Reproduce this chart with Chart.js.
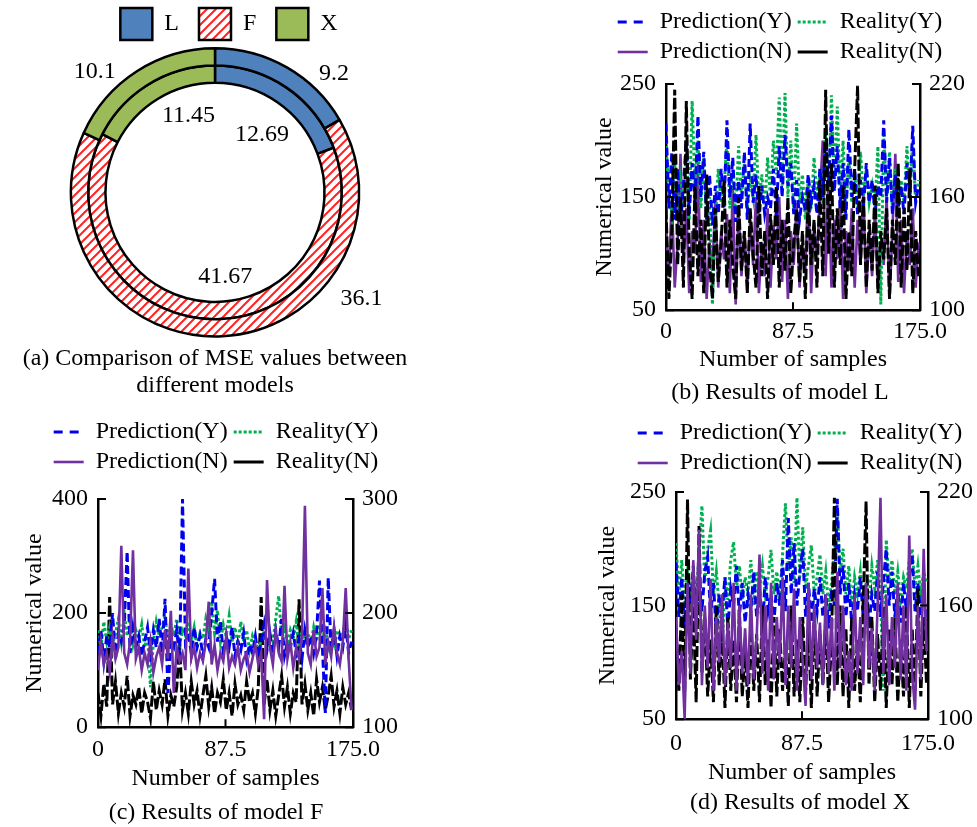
<!DOCTYPE html>
<html>
<head>
<meta charset="utf-8">
<script src="https://cdn.jsdelivr.net/npm/chart.js@4.4.1/dist/chart.umd.min.js"></script>
<style>
  html, body { margin: 0; padding: 0; background: #fff; overflow: hidden; width: 977px; height: 827px; }
  canvas { position: absolute; }
</style>
</head>
<body>
<canvas id="chartA" width="430" height="405" style="left:0;top:0"></canvas>
<canvas id="chartB" width="410" height="410" style="left:575px;top:0"></canvas>
<canvas id="chartC" width="432" height="417" style="left:0;top:410px"></canvas>
<canvas id="chartD" width="420" height="417" style="left:590px;top:410px"></canvas>
<script>
'use strict';

// ── DATA ───────────────────────────────────────────────────
// (a) MSE per model, outer ring and inner ring
const MODELS = ['L', 'F', 'X'];
const MSE_OUTER = [9.2, 36.1, 10.1];
const MSE_INNER = [12.69, 41.67, 11.45];

// line panels: x = sample number
const SAMPLES = [
  0, 2, 4, 6, 8, 10, 12, 14, 16, 18, 20, 22, 24, 26, 28, 30, 32, 34, 36, 38,
  40, 42, 44, 46, 48, 50, 52, 54, 56, 58, 60, 62, 64, 66, 68, 70, 72, 74, 76, 78,
  80, 82, 84, 86, 88, 90, 92, 94, 96, 98, 100, 102, 104, 106, 108, 110, 112, 114, 116, 118,
  120, 122, 124, 126, 128, 130, 132, 134, 136, 138, 140, 142, 144, 146, 148, 150, 152, 154, 156, 158,
  160, 162, 164, 166, 168, 170, 172, 174
];
const X_TICKS = [0, 87.5, 175];
const SERIES_NAMES = ['Prediction(Y)', 'Reality(Y)', 'Prediction(N)', 'Reality(N)'];

// (b) model L  — Y series on left axis, N series on right axis
const L_TICKS_LEFT = [50, 150, 250];
const L_TICKS_RIGHT = [100, 160, 220];
const L_PRED_Y = [
  215,140,190,130,175,128,160,200,135,180, 145,222,150,190,130,170,125,160,135,175,
  140,218,150,185,128,165,140,190,130,215, 145,170,130,160,135,150,140,175,130,195,
  150,205,160,180,135,165,130,150,138,170, 145,160,135,175,150,200,160,222,155,195,
  140,180,130,210,150,175,135,165,140,180, 145,165,135,160,150,218,145,185,135,170,
  140,160,135,180,150,213,145,160
];
const L_REAL_Y = [
  200,150,135,180,130,165,145,190,130,235, 160,200,140,185,135,150,55,130,175,145,
  160,200,140,175,135,195,150,180,140,165, 150,205,145,170,140,185,150,200,170,238,
  160,242,150,200,140,215,145,170,130,165, 140,185,150,170,145,210,155,240,160,230,
  150,200,140,185,145,170,140,190,150,175, 145,160,140,195,55,205,150,190,140,175,
  150,165,145,195,150,200,145,165
];
const L_PRED_N = [
  142,118,160,112,136,183,124,154,109,142, 130,178,115,148,106,136,121,160,112,142,
  127,151,109,166,103,154,118,142,112,148, 124,160,109,136,118,154,112,145,127,160,
  115,148,106,142,124,157,112,136,121,166, 109,145,127,160,190,118,172,112,148,127,
  160,106,142,121,154,112,148,124,163,109, 142,118,154,112,136,124,160,106,142,183,
  115,148,109,142,124,154,112,136
];
const L_REAL_N = [
  154,106,142,217,124,160,112,211,130,106, 166,118,148,109,172,124,106,154,115,136,
  169,112,148,124,106,160,121,142,109,154, 130,112,166,118,142,106,151,124,166,112,
  148,121,160,109,136,154,115,142,106,163, 124,148,112,169,118,217,130,178,112,154,
  124,166,106,142,118,175,219,124,160,112, 148,121,166,109,142,127,154,106,148,124,
  178,112,154,121,175,109,142,118
];

// (c) model F
const F_TICKS_LEFT = [0, 200, 400];
const F_TICKS_RIGHT = [100, 200, 300];
const F_PRED_Y = [
  130,170,115,160,140,200,120,165,150,180, 308,130,175,140,160,125,150,175,130,170,
  140,190,130,225,60,150,140,170,120,400, 150,165,130,175,140,160,125,155,140,200,
  260,150,185,130,160,140,175,125,150,135, 165,120,145,130,160,125,150,180,135,165,
  130,170,140,190,125,150,140,165,130,155, 120,170,140,160,130,165,257,140,25,262,
  135,170,125,160,140,180,130,150
];
const F_REAL_Y = [
  170,140,185,150,175,145,165,190,150,200, 160,185,145,170,155,180,140,160,70,150,
  185,160,175,195,150,180,160,190,145,170, 160,185,150,175,140,165,155,190,170,220,
  165,205,150,180,160,195,150,175,145,185, 150,170,135,160,145,140,150,170,140,165,
  150,190,230,160,175,145,170,155,185,140, 170,150,165,145,175,150,180,155,170,140,
  160,145,170,150,165,190,155,170
];
const F_PRED_N = [
  150,175,155,165,148,180,160,170,259,165, 155,175,255,160,170,150,165,155,175,148,
  162,170,155,185,160,202,130,170,158,165, 150,239,160,170,152,165,158,175,210,155,
  172,150,165,158,180,152,162,155,170,150, 160,165,148,160,172,155,165,107,229,170,
  155,185,165,158,224,160,175,152,170,160, 180,294,165,155,185,162,170,222,155,175,
  162,188,165,155,175,222,160,115
];
const F_REAL_N = [
  130,110,138,118,214,120,140,112,130,118, 145,110,128,120,135,112,130,122,108,140,
  115,132,120,142,110,128,118,135,172,115, 130,112,140,120,132,110,128,145,118,135,
  112,130,122,142,115,130,110,138,120,128, 115,140,122,130,112,135,214,120,142,115,
  132,110,128,145,118,135,112,130,122,212, 120,138,115,130,110,142,122,135,115,128,
  145,118,132,112,135,120,130,115
];

// (d) model X
const X_TICKS_LEFT = [50, 150, 250];
const X_TICKS_RIGHT = [100, 160, 220];
const X_PRED_Y = [
  188,140,175,130,170,150,185,135,165,145, 180,193,140,170,125,160,145,175,130,165,
  150,185,140,170,135,160,145,180,140,165, 130,175,145,160,135,170,150,190,145,227,
  160,205,150,180,200,140,170,135,165,145, 175,140,160,130,165,150,244,160,185,140,
  170,135,160,145,175,140,165,130,160,145, 180,140,170,200,150,180,140,165,135,170,
  145,175,195,145,170,140,160,135
];
const X_REAL_Y = [
  205,160,190,150,180,160,175,155,195,238, 170,200,216,160,180,150,107,175,155,190,
  206,165,185,155,175,160,190,150,180,165, 185,160,175,199,160,180,155,195,240,180,
  210,170,245,175,219,165,185,203,160,175, 195,160,180,150,170,200,234,180,200,160,
  185,150,175,160,180,150,170,155,185,165, 190,160,75,208,170,190,160,180,155,175,
  165,190,200,165,185,160,180,170
];
const X_PRED_N = [
  154,118,136,100,172,124,184,142,200,118, 160,127,174,115,154,130,166,118,151,127,
  172,115,160,124,148,118,166,121,142,187, 124,160,115,172,121,154,130,175,118,160,
  127,169,115,154,130,107,172,121,160,127, 151,118,166,124,154,115,178,127,160,118,
  136,115,166,124,154,118,172,127,148,115, 160,217,124,166,118,154,127,172,121,160,
  115,197,124,105,160,121,190,136
];
const X_REAL_N = [
  148,115,166,112,216,121,160,109,202,124, 154,112,142,109,160,118,148,106,154,115,
  142,109,157,112,136,106,151,115,145,109, 160,118,142,106,154,112,148,115,139,107,
  160,112,142,109,154,115,148,106,157,112, 145,118,154,109,142,217,118,160,112,148,
  106,154,115,142,109,160,215,118,154,109, 145,115,160,106,148,118,154,109,142,112,
  160,106,148,115,169,112,154,118
];

// ── STYLE ──────────────────────────────────────────────────
const SERIF = '"Liberation Serif", "Times New Roman", serif';
const LINE_COLORS = ['#0000ee', '#00b050', '#7030a0', '#000000'];
const LINE_DASH = [[8, 4], [3, 2.5], [], [11, 3]];
const LEGEND_DASH = [[9, 7], [3, 2], [], []];
const LINE_WIDTH = [3, 3, 2.6, 3];
const RING_BLUE = '#4f81bd';
const RING_GREEN = '#9bbb59';
// where the ring values sit: degrees clockwise from top, offset from the ring edge
const LABEL_ANGLE = [[45, 126, 315], [39, 173, 341]];
const LABEL_SHIFT = [[24, 37, 26], [-35, -25, -28]];

Chart.defaults.font.family = SERIF;
Chart.defaults.font.size = 24;
Chart.defaults.color = '#000';

function hatchPattern() {
  const c = document.createElement('canvas');
  c.width = 9; c.height = 9;
  const g = c.getContext('2d');
  g.fillStyle = '#fff';
  g.fillRect(0, 0, 9, 9);
  g.strokeStyle = '#ff2222';
  g.lineWidth = 2;
  g.beginPath();
  g.moveTo(0, 9); g.lineTo(9, 0);
  g.moveTo(-2, 2); g.lineTo(2, -2);
  g.moveTo(7, 11); g.lineTo(11, 7);
  g.stroke();
  return g.createPattern(c, 'repeat');
}

// ── PLUGINS ────────────────────────────────────────────────
// extra room under the legend, and an optional sideways nudge of it
const legendGap = {
  id: 'legendGap',
  beforeInit(chart, args, opts) {
    const fit = chart.legend.fit;
    chart.legend.fit = function () {
      fit.call(this);
      this.height += opts.gap || 0;
    };
  },
  afterLayout(chart, args, opts) {
    if (opts.shift) {
      chart.legend.left += opts.shift;
      chart.legend.right += opts.shift;
    }
  }
};

// short ticks pointing into the plot, as in the figure
const inwardTicks = {
  id: 'inwardTicks',
  afterDraw(chart) {
    const { ctx, chartArea: a } = chart;
    const len = 8;
    ctx.save();
    ctx.strokeStyle = '#000';
    ctx.lineWidth = 2;
    ctx.beginPath();
    chart.scales.y.ticks.forEach(t => {
      const py = chart.scales.y.getPixelForValue(t.value);
      ctx.moveTo(a.left, py); ctx.lineTo(a.left + len, py);
    });
    chart.scales.y1.ticks.forEach(t => {
      const py = chart.scales.y1.getPixelForValue(t.value);
      ctx.moveTo(a.right, py); ctx.lineTo(a.right - len, py);
    });
    chart.scales.x.ticks.forEach(t => {
      const px = chart.scales.x.getPixelForValue(t.value);
      ctx.moveTo(px, a.bottom); ctx.lineTo(px, a.bottom - len);
    });
    ctx.stroke();
    ctx.restore();
  }
};

const ringLabels = {
  id: 'ringLabels',
  afterDatasetsDraw(chart) {
    const { ctx } = chart;
    ctx.save();
    ctx.font = '24px ' + SERIF;
    ctx.fillStyle = '#000';
    ctx.textAlign = 'center';
    ctx.textBaseline = 'middle';
    chart.data.datasets.forEach((ds, di) => {
      chart.getDatasetMeta(di).data.forEach((arc, i) => {
        const p = arc.getProps(['x', 'y', 'innerRadius', 'outerRadius'], true);
        const ang = LABEL_ANGLE[di][i] * Math.PI / 180;
        const r = (di === 0 ? p.outerRadius : p.innerRadius) + LABEL_SHIFT[di][i];
        ctx.fillText(String(ds.data[i]), p.x + r * Math.sin(ang), p.y - r * Math.cos(ang));
      });
    });
    ctx.restore();
  }
};

// ── (a) DOUGHNUT ───────────────────────────────────────────
const hatch = hatchPattern();
new Chart(document.getElementById('chartA'), {
  type: 'doughnut',
  data: {
    labels: MODELS,
    datasets: [MSE_OUTER, MSE_INNER].map(vals => ({
      data: vals,
      backgroundColor: [RING_BLUE, hatch, RING_GREEN],
      borderColor: '#000',
      borderWidth: 2.5
    }))
  },
  options: {
    responsive: false,
    animation: false,
    events: [],
    cutout: '76%',
    layout: { padding: { top: -12 } },
    plugins: {
      legendGap: { gap: -3, shift: 14 },
      legend: {
        position: 'top',
        labels: { boxWidth: 32, boxHeight: 32, padding: 20, font: { size: 24 } }
      },
      title: {
        display: true,
        position: 'bottom',
        text: ['(a) Comparison of MSE values between', 'different models'],
        font: { size: 24, weight: 'normal', lineHeight: 1.13 },
        padding: { top: 7, bottom: 6 }
      },
      tooltip: { enabled: false }
    }
  },
  plugins: [legendGap, ringLabels]
});

// ── LINE PANELS ────────────────────────────────────────────
function lineChart(id, series, order, leftTicks, rightTicks, caption, lay) {
  const datasets = series.map((vals, k) => ({
    label: SERIES_NAMES[k],
    data: vals.map((v, i) => ({ x: SAMPLES[i], y: v })),
    yAxisID: k < 2 ? 'y' : 'y1',
    borderColor: LINE_COLORS[k],
    backgroundColor: LINE_COLORS[k],
    borderDash: LINE_DASH[k],
    borderWidth: LINE_WIDTH[k],
    pointRadius: 0,
    tension: 0,
    fill: false,
    order: order[k]
  }));
  const axisBase = {
    grid: { display: true, drawOnChartArea: false, drawTicks: false },
    border: { display: true, color: '#000', width: 2.5 }
  };
  new Chart(document.getElementById(id), {
    type: 'line',
    data: { datasets },
    options: {
      responsive: false,
      animation: false,
      events: [],
      layout: { padding: { top: lay.padTop, left: 0, right: 0, bottom: 0 } },
      scales: {
        x: {
          ...axisBase,
          type: 'linear',
          min: X_TICKS[0],
          max: X_TICKS[X_TICKS.length - 1],
          afterBuildTicks: s => { s.ticks = X_TICKS.map(v => ({ value: v })); },
          ticks: { padding: lay.xPad, maxRotation: 0, autoSkip: false,
                   callback: v => v === 175 ? '175.0' : String(v) },
          title: { display: true, text: 'Number of samples', padding: { top: 0, bottom: 0 } },
          afterFit: s => { s.height = lay.xH; }
        },
        y: {
          ...axisBase,
          position: 'left',
          min: leftTicks[0],
          max: leftTicks[leftTicks.length - 1],
          afterBuildTicks: s => { s.ticks = leftTicks.map(v => ({ value: v })); },
          ticks: { padding: 10 },
          title: { display: true, text: 'Numerical value', padding: { top: lay.yTitlePt, bottom: 0 } },
          afterFit: s => { s.width = lay.yW; }
        },
        y1: {
          ...axisBase,
          position: 'right',
          min: rightTicks[0],
          max: rightTicks[rightTicks.length - 1],
          afterBuildTicks: s => { s.ticks = rightTicks.map(v => ({ value: v })); },
          ticks: { padding: 9 },
          afterFit: s => { s.width = lay.y1W; }
        }
      },
      plugins: {
        legendGap: { gap: lay.gap },
        legend: {
          position: 'top',
          labels: {
            usePointStyle: true,
            pointStyle: 'line',
            pointStyleWidth: 30,
            padding: 6,
            sort: (a, b) => a.datasetIndex - b.datasetIndex,
            generateLabels(chart) {
              const items = Chart.defaults.plugins.legend.labels.generateLabels(chart);
              items.forEach(it => {
                const k = it.datasetIndex;
                it.lineDash = LEGEND_DASH[k];
                it.lineWidth = LINE_WIDTH[k];
                it.strokeStyle = LINE_COLORS[k];
                it.fillStyle = LINE_COLORS[k];
              });
              return items;
            }
          }
        },
        title: {
          display: true,
          position: 'bottom',
          text: caption,
          font: { size: 24, weight: 'normal' },
          padding: { top: lay.capPt, bottom: lay.capPb }
        },
        tooltip: { enabled: false }
      }
    },
    plugins: [legendGap, inwardTicks]
  });
}

lineChart('chartB', [L_PRED_Y, L_REAL_Y, L_PRED_N, L_REAL_N], [2, 3, 4, 1],
  L_TICKS_LEFT, L_TICKS_RIGHT, '(b) Results of model L',
  { padTop: 4, gap: 10, yW: 91, y1W: 65, yTitlePt: 15, xH: 64, xPad: 7, capPt: 4, capPb: 3 });

lineChart('chartC', [F_PRED_Y, F_REAL_Y, F_PRED_N, F_REAL_N], [2, 3, 1, 4],
  F_TICKS_LEFT, F_TICKS_RIGHT, '(c) Results of model F',
  { padTop: 4, gap: 15, yW: 98, y1W: 79, yTitlePt: 20, xH: 66, xPad: 8, capPt: 5, capPb: 0 });

lineChart('chartD', [X_PRED_Y, X_REAL_Y, X_PRED_N, X_REAL_N], [3, 4, 1, 2],
  X_TICKS_LEFT, X_TICKS_RIGHT, '(d) Results of model X',
  { padTop: 5, gap: 7, yW: 86, y1W: 82, yTitlePt: 3, xH: 68, xPad: 10, capPt: 1, capPb: 10 });
</script>
</body>
</html>
